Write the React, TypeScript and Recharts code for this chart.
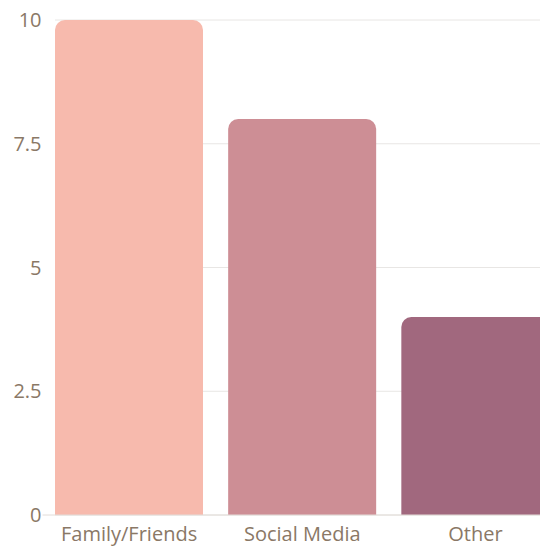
import { BarChart, Bar, XAxis, YAxis, CartesianGrid, Cell } from "recharts";

const categories = ["Family/Friends", "Social Media", "Other"];
const counts = [10, 8, 4];
const barColors = ["#f7baad", "#cd8e95", "#a1687e"];
const yTicks = [0, 2.5, 5, 7.5, 10];

const data = categories.map((name, i) => ({ name, value: counts[i] }));

const textColor = "#8a7866";
const font = "'Open Sans', sans-serif";

export default function App() {
  return (
    <div
      style={{
        position: "absolute",
        left: 0,
        top: 0,
        width: 540,
        height: 546,
        overflow: "hidden",
        background: "#fff",
      }}
    >
      <BarChart
        width={562}
        height={546}
        data={data}
        margin={{ top: 20, right: 0, bottom: 0, left: 0 }}
        barCategoryGap={12.5}
      >
        <CartesianGrid
          vertical={false}
          stroke="#e8e6e4"
          x={55}
          width={507}
        />
        <XAxis
          dataKey="name"
          height={31}
          tickLine={false}
          axisLine={{ stroke: "#e2dcd8" }}
          tick={{ fill: textColor, fontSize: 20, fontFamily: font }}
          tickMargin={6}
          interval={0}
        />
        <YAxis
          width={42.5}
          domain={[0, 10]}
          ticks={yTicks}
          axisLine={false}
          tickLine={false}
          tick={{ fill: textColor, fontSize: 20, fontFamily: font }}
          tickMargin={-5}
        />
        <Bar dataKey="value" radius={[10, 10, 0, 0]} isAnimationActive={false}>
          {data.map((d, i) => (
            <Cell key={d.name} fill={barColors[i]} />
          ))}
        </Bar>
      </BarChart>
    </div>
  );
}
